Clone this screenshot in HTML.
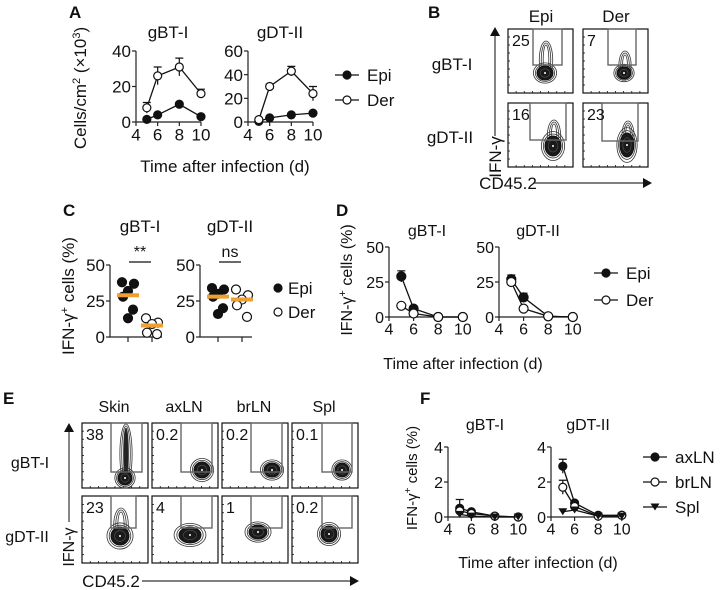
<!DOCTYPE html>
<html><head><meta charset="utf-8"><style>
html,body{margin:0;padding:0;background:#fff;}
svg{display:block;font-family:"Liberation Sans",Arial,sans-serif;}
</style></head><body>
<svg id="fig" width="725" height="590" viewBox="0 0 725 590" xmlns="http://www.w3.org/2000/svg"></svg>
<script>
// ---------- DATA ----------
const days = [5, 6, 8, 10];
// Panel A (cells/cm2 x10^3)
const aGbtEpi = [1.5, 4, 10, 3];
const aGbtEpiErr = [0.5, 0.5, 1, 0.5];
const aGbtDer = [8, 26, 31, 16];
const aGbtDerErr = [3, 5, 5, 2.5];
const aGdtEpi = [0.5, 3.5, 6, 7.5];
const aGdtEpiErr = [0.3, 0.5, 0.5, 0.5];
const aGdtDer = [2, 30, 43, 24];
const aGdtDerErr = [0.5, 2, 4, 6];
const aGbtYTicks = [0, 20, 40];
const aGdtYTicks = [0, 20, 40, 60];
const xTicks = [4, 6, 8, 10];
// Panel C (IFN-g+ %)
const cGbtEpi = [38, 37, 32, 28, 19, 13];
const cGbtDer = [13, 10, 9, 3, 2];
const cGbtMeans = [29, 8];
const cGdtEpi = [34, 33, 30, 28, 20, 16];
const cGdtDer = [33, 29, 26, 22, 14];
const cGdtMeans = [28, 26];
const cYTicks = [0, 25, 50];
// Panel D
const dGbtEpi = [29, 6, 0, 0];
const dGbtEpiErr = [4, 1, 0, 0];
const dGbtDer = [8, 2.5, 0, 0];
const dGbtDerErr = [1, 0.5, 0, 0];
const dGdtEpi = [27, 14, 0.5, 0];
const dGdtEpiErr = [3, 3, 0, 0];
const dGdtDer = [25, 6, 0.5, 0];
const dGdtDerErr = [2, 1, 0, 0];
const dYTicks = [0, 25, 50];
// Panel F
const fGbtAx = [0.5, 0.3, 0.05, 0];
const fGbtAxErr = [0.5, 0.1, 0, 0];
const fGbtBr = [0.35, 0.2, 0.05, 0];
const fGbtBrErr = [0.2, 0.1, 0, 0];
const fGbtSpl = [0.15, 0.05, 0, 0];
const fGdtAx = [2.9, 0.8, 0.1, 0.1];
const fGdtAxErr = [0.4, 0.1, 0, 0];
const fGdtBr = [1.7, 0.6, 0.05, 0.1];
const fGdtBrErr = [0.4, 0.1, 0, 0];
const fGdtSpl = [0.3, 0.4, 0.05, 0.05];
const fYTicks = [0, 2, 4];
// Flow gate percentages
const bNums = ["25", "7", "16", "23"];
const eNums = ["38", "0.2", "0.2", "0.1", "23", "4", "1", "0.2"];

// ---------- HELPERS ----------
const NS = "http://www.w3.org/2000/svg";
const fig = document.getElementById("fig");
function mk(tag, attrs, parent) {
  const e = document.createElementNS(NS, tag);
  for (const k in attrs) e.setAttribute(k, attrs[k]);
  (parent || fig).appendChild(e);
  return e;
}
function txt(x, y, s, size, opts, parent) {
  opts = opts || {};
  const t = mk("text", {x: x, y: y, "font-size": size, "text-anchor": opts.anchor || "middle", fill: "#111"}, parent);
  if (opts.weight) t.setAttribute("font-weight", opts.weight);
  if (opts.rot) t.setAttribute("transform", "rotate(-90 " + x + " " + y + ")");
  t.textContent = s;
  return t;
}
function grp(name) {
  const g = mk("g", {});
  
  
  return g;
}

function lineChart(cfg) {
  const g = grp(cfg.name);
  const xs = v => cfg.x0 + (v - 4) * cfg.xu;
  const ys = v => cfg.y0 - v / cfg.ymax * (cfg.y0 - cfg.ytop);
  const ax = mk("path", {d: "M" + cfg.x0 + " " + ys(cfg.yticks[cfg.yticks.length-1]) + "V" + cfg.y0 + "H" + xs(10), stroke: "#222", "stroke-width": 1.2, fill: "none"}, g);
  
  
  cfg.yticks.forEach(v => {
    mk("line", {x1: cfg.x0 - 4, x2: cfg.x0, y1: ys(v), y2: ys(v), stroke: "#222", "stroke-width": 1.2}, g);
    const t = txt(cfg.x0 - 5, ys(v) + cfg.fs * 0.36, String(v), cfg.fs, {anchor: "end"}, g);
    
    
  });
  xTicks.forEach(v => {
    mk("line", {x1: xs(v), x2: xs(v), y1: cfg.y0, y2: cfg.y0 + 4, stroke: "#222", "stroke-width": 1.2}, g);
    const t = txt(xs(v), cfg.y0 + 4 + cfg.fs * 0.85, String(v), cfg.fs, {}, g);
    
    
  });
  const tt = txt(cfg.tx, cfg.ty, cfg.title, cfg.fs, {}, g);
  
  
  cfg.series.forEach(s => {
    const sg = mk("g", {}, g);
    
    
    const pts = days.map((d, i) => [xs(d), ys(s.vals[i])]);
    mk("polyline", {points: pts.map(p => p.join(",")).join(" "), fill: "none", stroke: "#111", "stroke-width": 1.3}, sg);
    if (s.err) s.err.forEach((e, i) => {
      if (e <= 0) return;
      const x = xs(days[i]), yt = ys(s.vals[i] + e), yb = ys(Math.max(0, s.vals[i] - e));
      mk("path", {d: "M" + x + " " + yb + "V" + yt + "M" + (x - 4) + " " + yt + "H" + (x + 4), stroke: "#111", "stroke-width": 1.2, fill: "none"}, sg);
    });
    pts.forEach(p => {
      let m;
      if (s.marker === "tri") m = mk("path", {d: "M" + (p[0]-4.5) + " " + (p[1]-3.5) + "h9l-4.5 7z", fill: "#111"}, sg);
      else m = mk("circle", {cx: p[0], cy: p[1], r: cfg.r, fill: s.marker === "open" ? "#fff" : "#111", stroke: "#111", "stroke-width": 1.2}, sg);
      
      
    });
  });
}

function legend(items, x, yStart, dy, fs, name, lineLen) {
  const g = grp(name);
  items.forEach((it, i) => {
    const y = yStart + i * dy;
    const eg = mk("g", {}, g);
    
    
    if (lineLen) mk("line", {x1: x - lineLen/2, x2: x + lineLen/2, y1: y, y2: y, stroke: "#111", "stroke-width": 1.3}, eg);
    if (it.marker === "tri") mk("path", {d: "M" + (x-4.5) + " " + (y-3.5) + "h9l-4.5 7z", fill: "#111"}, eg);
    else mk("circle", {cx: x, cy: y, r: 4, fill: it.marker === "open" ? "#fff" : "#111", stroke: "#111", "stroke-width": 1.2}, eg);
    txt(x + (lineLen ? lineLen/2 + 8 : 10), y + fs * 0.36, it.label, fs, {anchor: "start"}, eg);
  });
}

function scatter(cfg) {
  const g = grp(cfg.name);
  const ys = v => cfg.y0 - v / 50 * (cfg.y0 - cfg.ytop);
  mk("path", {d: "M" + cfg.x0 + " " + cfg.ytop + "V" + cfg.y0 + "H" + (cfg.xc[1] + 10), stroke: "#222", "stroke-width": 1.2, fill: "none"}, g);
  cYTicks.forEach(v => {
    mk("line", {x1: cfg.x0 - 4, x2: cfg.x0, y1: ys(v), y2: ys(v), stroke: "#222", "stroke-width": 1.2}, g);
    txt(cfg.x0 - 5, ys(v) + 6, String(v), 17, {anchor: "end"}, g);
  });
  cfg.xc.forEach(x => mk("line", {x1: x, x2: x, y1: cfg.y0, y2: cfg.y0 + 5, stroke: "#222", "stroke-width": 1.2}, g));
  txt((cfg.xc[0] + cfg.xc[1]) / 2, cfg.ytop - 33, cfg.title, 17, {}, g);
  mk("line", {x1: cfg.xc[0] + 1, x2: cfg.xc[1] - 1, y1: cfg.ytop - 3, y2: cfg.ytop - 3, stroke: "#111", "stroke-width": 1.2}, g);
  const sig = txt((cfg.xc[0] + cfg.xc[1]) / 2, cfg.ytop - 8, cfg.sig, 16, {}, g);
  
  
  [cfg.epi, cfg.der].forEach((vals, k) => {
    const off = [-6, 6, 0, -5, 5, 0];
    vals.forEach((v, i) => {
      const c = mk("circle", {cx: cfg.xc[k] + off[i % 6], cy: ys(v), r: 4.5, fill: k ? "#fff" : "#111", stroke: "#111", "stroke-width": 1.2}, g);
      
      
    });
    const m = mk("line", {x1: cfg.xc[k] - 11, x2: cfg.xc[k] + 11, y1: ys(cfg.means[k]), y2: ys(cfg.means[k]), stroke: "#f0a030", "stroke-width": 4}, g);
    
    
  });
}

// blob: [cx, cy, rx, ry, tailLength, darkTail]
function flowPlot(x, y, w, h, gate, num, blob, name) {
  const g = grp(name);
  mk("rect", {x: x, y: y, width: w, height: h, fill: "#fff", stroke: "#111", "stroke-width": 1.2}, g);
  for (let i = 1; i < 8; i++) {
    mk("line", {x1: x + i * w / 8, x2: x + i * w / 8, y1: y + h, y2: y + h - 2, stroke: "#111", "stroke-width": 0.8}, g);
    mk("line", {x1: x, x2: x + 2, y1: y + i * h / 8, y2: y + i * h / 8, stroke: "#111", "stroke-width": 0.8}, g);
  }
  const cx = blob[0], cy = blob[1], rx = blob[2], ry = blob[3], tail = blob[4], dark = blob[5];
  if (tail > 0) {
    for (let k = 2; k >= 0; k--) {
      mk("ellipse", {cx: cx + 1, cy: cy - tail / 2, rx: rx * (0.35 + 0.12 * k) + k, ry: tail / 2 + 2 + k * 2,
        fill: (dark && k === 0) ? "#222" : "none", stroke: "#333", "stroke-width": 0.8}, g);
    }
  }
  [1.45, 1.2].forEach(s => mk("ellipse", {cx: cx, cy: cy, rx: rx * s, ry: ry * s, fill: "none", stroke: "#333", "stroke-width": 0.8}, g));
  mk("ellipse", {cx: cx, cy: cy, rx: rx, ry: ry, fill: "#1a1a1a", stroke: "#111", "stroke-width": 1}, g);
  mk("ellipse", {cx: cx, cy: cy, rx: rx * 0.6, ry: ry * 0.6, fill: "none", stroke: "#555", "stroke-width": 0.6}, g);
  mk("circle", {cx: cx, cy: cy, r: 1, fill: "#fff"}, g);
  const gt = mk("rect", {x: gate[0], y: gate[1], width: gate[2] - gate[0], height: gate[3] - gate[1], fill: "none", stroke: "#666", "stroke-width": 1.4}, g);
  
  
  const t = txt(x + 4, y + 17, num, 16, {anchor: "start"}, g);
  
  
}

function panelLabel(s, x, y) {
  const t = txt(x, y, s, 17, {anchor: "start", weight: "bold"});
  
  
}
function label(s, x, y, size, rot, name) {
  const t = txt(x, y, s, size, {rot: rot});
  
  
  return t;
}

// ---------- PANEL A ----------
panelLabel("A", 69, 18);
lineChart({name: "chart-a-gbt", x0: 136, xu: 10.83, y0: 122, ytop: 51, ymax: 40, yticks: aGbtYTicks, fs: 17, r: 4, title: "gBT-I", tx: 168, ty: 38,
  series: [{name: "epi", vals: aGbtEpi, err: aGbtEpiErr, marker: "fill"}, {name: "der", vals: aGbtDer, err: aGbtDerErr, marker: "open"}]});
lineChart({name: "chart-a-gdt", x0: 248, xu: 10.83, y0: 122, ytop: 51, ymax: 60, yticks: aGdtYTicks, fs: 17, r: 4, title: "gDT-II", tx: 280, ty: 38,
  series: [{name: "epi", vals: aGdtEpi, err: aGdtEpiErr, marker: "fill"}, {name: "der", vals: aGdtDer, err: aGdtDerErr, marker: "open"}]});
(function () {
  const t = mk("text", {x: 86, y: 88, "font-size": 17, "text-anchor": "middle", fill: "#111", transform: "rotate(-90 86 88)"});
  
  
  t.innerHTML = 'Cells/cm<tspan dy="-6" font-size="11">2</tspan><tspan dy="6"> (×10</tspan><tspan dy="-6" font-size="11">3</tspan><tspan dy="6">)</tspan>';
})();
label("Time after infection (d)", 225, 172, 17, false, "x-axis-title-a");
legend([{label: "Epi", marker: "fill"}, {label: "Der", marker: "open"}], 347, 75, 25, 17, "legend-a", 24);

// ---------- PANEL B ----------
panelLabel("B", 428, 18);
label("Epi", 541, 22, 17, false, "column-title-epi");
label("Der", 616, 22, 17, false, "column-title-der");
label("gBT-I", 452, 70, 17, false, "row-label-gbt");
label("gDT-II", 450, 143, 17, false, "row-label-gdt");
flowPlot(508, 29, 65, 64, [533, 29, 562, 65], bNums[0], [545, 73, 8, 7, 26, false], "flow-b-gbt-epi");
flowPlot(583, 29, 65, 64, [608, 29, 636, 65], bNums[1], [624, 73, 7, 6, 16, false], "flow-b-gbt-der");
flowPlot(508, 103, 65, 64, [530, 103, 566, 140], bNums[2], [553, 146, 8, 10, 20, false], "flow-b-gdt-epi");
flowPlot(583, 103, 65, 64, [602, 103, 638, 141], bNums[3], [627, 145, 7, 12, 18, false], "flow-b-gdt-der");
mk("path", {d: "M495 136V33", stroke: "#333", "stroke-width": 1.2});
mk("path", {d: "M490 36l5-9 5 9z", fill: "#111"});
label("IFN-γ", 501, 157, 17, true, "y-axis-title-b");
mk("path", {d: "M534 183H646", stroke: "#333", "stroke-width": 1.2});
mk("path", {d: "M643 178l9 5-9 5z", fill: "#111"});
label("CD45.2", 508, 189, 17, false, "x-axis-title-b");

// ---------- PANEL C ----------
panelLabel("C", 63, 216);
scatter({name: "chart-c-gbt", x0: 110, y0: 337, ytop: 265, xc: [128, 152], epi: cGbtEpi, der: cGbtDer, means: cGbtMeans, title: "gBT-I", sig: "**"});
scatter({name: "chart-c-gdt", x0: 200, y0: 337, ytop: 265, xc: [218, 242], epi: cGdtEpi, der: cGdtDer, means: cGdtMeans, title: "gDT-II", sig: "ns"});
(function () {
  const t = mk("text", {x: 74, y: 296, "font-size": 17, "text-anchor": "middle", fill: "#111", transform: "rotate(-90 74 296)"});
  
  
  t.innerHTML = 'IFN-γ<tspan dy="-6" font-size="11">+</tspan><tspan dy="6"> cells (%)</tspan>';
})();
legend([{label: "Epi", marker: "fill"}, {label: "Der", marker: "open"}], 278, 288, 24, 17, "legend-c", 0);

// ---------- PANEL D ----------
panelLabel("D", 336, 216);
lineChart({name: "chart-d-gbt", x0: 389, xu: 12.3, y0: 317, ytop: 247, ymax: 50, yticks: dYTicks, fs: 16, r: 4.5, title: "gBT-I", tx: 427, ty: 236,
  series: [{name: "epi", vals: dGbtEpi, err: dGbtEpiErr, marker: "fill"}, {name: "der", vals: dGbtDer, err: dGbtDerErr, marker: "open"}]});
lineChart({name: "chart-d-gdt", x0: 499, xu: 12.3, y0: 317, ytop: 247, ymax: 50, yticks: dYTicks, fs: 16, r: 4.5, title: "gDT-II", tx: 538, ty: 236,
  series: [{name: "epi", vals: dGdtEpi, err: dGdtEpiErr, marker: "fill"}, {name: "der", vals: dGdtDer, err: dGdtDerErr, marker: "open"}]});
(function () {
  const t = mk("text", {x: 352, y: 280, "font-size": 16, "text-anchor": "middle", fill: "#111", transform: "rotate(-90 352 280)"});
  
  
  t.innerHTML = 'IFN-γ<tspan dy="-6" font-size="11">+</tspan><tspan dy="6"> cells (%)</tspan>';
})();
label("Time after infection (d)", 463, 369, 16, false, "x-axis-title-d");
legend([{label: "Epi", marker: "fill"}, {label: "Der", marker: "open"}], 606, 273, 27, 17, "legend-d", 24);

// ---------- PANEL E ----------
panelLabel("E", 3, 404);
const eCols = ["Skin", "axLN", "brLN", "Spl"];
const eX = [82, 152, 222, 292];
const eGateX = [[111, 142], [181, 212], [251, 282], [322, 352]];
const eBlobs = [[125, 478, 7, 7, 48, true], [202, 470, 8, 8, 0, false], [272, 470, 8, 7, 0, false], [342, 470, 7, 7, 0, false],
                [120, 536, 9, 9, 22, false], [190, 535, 11, 8, 0, false], [258, 532, 9, 7, 0, false], [329, 534, 8, 8, 0, false]];
eCols.forEach((c, i) => label(c, eX[i] + 32, 412, 16, false, "column-title-" + c.toLowerCase()));
label("gBT-I", 30, 468, 16, false, "row-label-gbt-e");
label("gDT-II", 27, 542, 16, false, "row-label-gdt-e");
for (let r = 0; r < 2; r++) for (let c = 0; c < 4; c++) {
  const y = r ? 496 : 423;
  const gx = eGateX[c];
  const gate = r ? [gx[0], 496, c === 0 ? 136 : gx[1], 528] : [gx[0], 423, gx[1], 472];
  flowPlot(eX[c], y, 66, r ? 67 : 65, gate, eNums[r * 4 + c], eBlobs[r * 4 + c], "flow-e-" + (r ? "gdt-" : "gbt-") + eCols[c].toLowerCase());
}
mk("path", {d: "M69 522V430", stroke: "#333", "stroke-width": 1.2});
mk("path", {d: "M64 432l5-9 5 9z", fill: "#111"});
label("IFN-γ", 74, 547, 16, true, "y-axis-title-e");
mk("path", {d: "M142 581H352", stroke: "#333", "stroke-width": 1.2});
mk("path", {d: "M350 576l9 5-9 5z", fill: "#111"});
label("CD45.2", 111, 587, 17, false, "x-axis-title-e");

// ---------- PANEL F ----------
panelLabel("F", 420, 404);
lineChart({name: "chart-f-gbt", x0: 448, xu: 11.7, y0: 517, ytop: 447, ymax: 4, yticks: fYTicks, fs: 16, r: 4, title: "gBT-I", tx: 485, ty: 430,
  series: [{name: "axln", vals: fGbtAx, err: fGbtAxErr, marker: "fill"}, {name: "brln", vals: fGbtBr, err: fGbtBrErr, marker: "open"}, {name: "spl", vals: fGbtSpl, marker: "tri"}]});
lineChart({name: "chart-f-gdt", x0: 551, xu: 11.8, y0: 517, ytop: 447, ymax: 4, yticks: fYTicks, fs: 16, r: 4, title: "gDT-II", tx: 588, ty: 430,
  series: [{name: "axln", vals: fGdtAx, err: fGdtAxErr, marker: "fill"}, {name: "brln", vals: fGdtBr, err: fGdtBrErr, marker: "open"}, {name: "spl", vals: fGdtSpl, marker: "tri"}]});
(function () {
  const t = mk("text", {x: 417, y: 478, "font-size": 15, "text-anchor": "middle", fill: "#111", transform: "rotate(-90 417 478)"});
  
  
  t.innerHTML = 'IFN-γ<tspan dy="-6" font-size="10">+</tspan><tspan dy="6"> cells (%)</tspan>';
})();
label("Time after infection (d)", 538, 568, 16, false, "x-axis-title-f");
legend([{label: "axLN", marker: "fill"}, {label: "brLN", marker: "open"}, {label: "Spl", marker: "tri"}], 655, 457, 25, 17, "legend-f", 24);
</script>
</body></html>
